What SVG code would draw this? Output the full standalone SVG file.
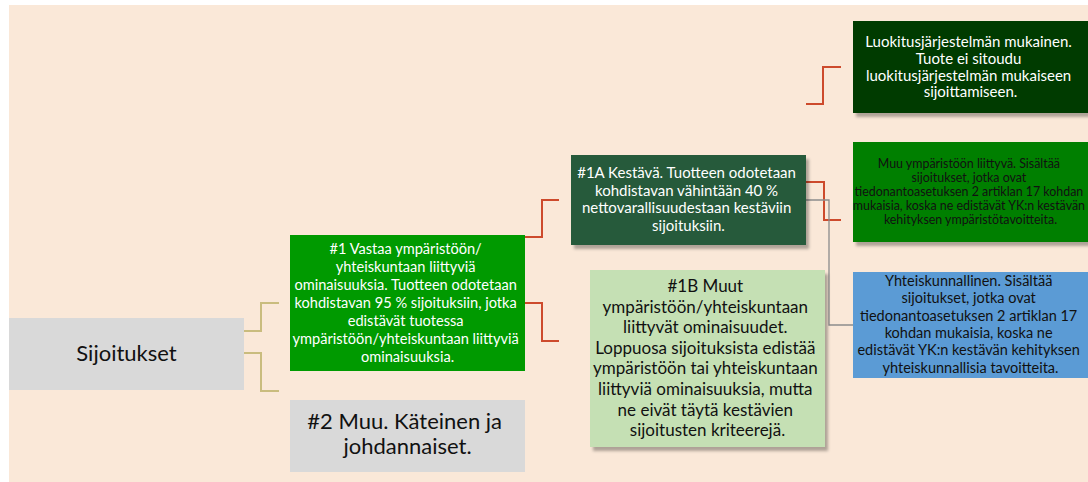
<svg xmlns="http://www.w3.org/2000/svg" width="1088" height="482" viewBox="0 0 1088 482">
<defs>
<filter id="sh" x="-10%" y="-10%" width="130%" height="140%">
<feDropShadow dx="3" dy="4" stdDeviation="1.5" flood-color="#000" flood-opacity="0.3"/>
</filter>
<style>
text{font-family:Lato,"Open Sans","Noto Sans",sans-serif;text-anchor:middle}
.w{fill:#ffffff}
.k{fill:#111111}
.tan{fill:none;stroke:#C9BC7E;stroke-width:2}
.red{fill:none;stroke:#CD4A2C;stroke-width:2}
.gry{fill:none;stroke:#8C8C8C;stroke-width:1.3}
</style>
</defs>
<rect x="0" y="0" width="1088" height="482" fill="#ffffff"/>
<rect x="9" y="5" width="1079" height="477" fill="#FAE8D8"/>

<g id="connectors">
<polyline class="tan" points="244,331 261,331 261,303 279,303"/>
<polyline class="tan" points="244,353 261,353 261,391 279,391"/>
<polyline class="red" points="525,237 542,237 542,200 559,200"/>
<polyline class="red" points="525,303 542,303 542,341 559,341"/>
<polyline class="red" points="806,182 824,182 824,220 841,220"/>
<polyline class="gry" points="806,200 829,200 829,325 853,325"/>
<polyline class="red" points="806,104 823,104 823,67 841,67"/>
</g>

<g id="sijoitukset">
<rect x="9" y="318" width="235" height="72" fill="#D9D9D9"/>
<text class="k" x="126.5" y="361" font-size="22">Sijoitukset</text>
</g>

<g id="n1">
<rect x="290" y="235" width="235" height="136" fill="#009A00"/>
<text class="w" font-size="14.6">
<tspan x="407.5" y="254">#1 Vastaa ympäristöön/</tspan>
<tspan x="407.5" y="272">yhteiskuntaan liittyviä</tspan>
<tspan x="407.5" y="290">ominaisuuksia. Tuotteen odotetaan</tspan>
<tspan x="407.5" y="308">kohdistavan 95 % sijoituksiin, jotka</tspan>
<tspan x="407.5" y="326">edistävät tuotessa</tspan>
<tspan x="407.5" y="344">ympäristöön/yhteiskuntaan liittyviä</tspan>
<tspan x="407.5" y="362">ominaisuuksia.</tspan>
</text>
</g>

<g id="n2">
<rect x="290" y="400" width="235" height="72" fill="#D9D9D9"/>
<text class="k" font-size="22">
<tspan x="407.5" y="429">#2 Muu. Käteinen ja</tspan>
<tspan x="407.5" y="454">johdannaiset.</tspan>
</text>
</g>

<g id="n1a">
<rect x="571" y="155" width="235" height="90" fill="#255A3A" filter="url(#sh)"/>
<text class="w" font-size="15">
<tspan x="688.5" y="178">#1A Kestävä. Tuotteen odotetaan</tspan>
<tspan x="688.5" y="195.7">kohdistavan vähintään 40 %</tspan>
<tspan x="688.5" y="213.3">nettovarallisuudestaan kestäviin</tspan>
<tspan x="688.5" y="231">sijoituksiin.</tspan>
</text>
</g>

<g id="n1b">
<rect x="590" y="270" width="235" height="177" fill="#C5E0B4" filter="url(#sh)"/>
<text class="k" font-size="17">
<tspan x="707.5" y="292">#1B Muut</tspan>
<tspan x="707.5" y="312.6">ympäristöön/yhteiskuntaan</tspan>
<tspan x="707.5" y="333.2">liittyvät ominaisuudet.</tspan>
<tspan x="707.5" y="353.8">Loppuosa sijoituksista edistää</tspan>
<tspan x="707.5" y="374.4">ympäristöön tai yhteiskuntaan</tspan>
<tspan x="707.5" y="395">liittyviä ominaisuuksia, mutta</tspan>
<tspan x="707.5" y="415.6">ne eivät täytä kestävien</tspan>
<tspan x="707.5" y="436">sijoitusten kriteerejä.</tspan>
</text>
</g>

<g id="taxonomy">
<rect x="853" y="21" width="240" height="92" fill="#013A06" filter="url(#sh)"/>
<text class="w" font-size="15">
<tspan x="970.5" y="47">Luokitusjärjestelmän mukainen.</tspan>
<tspan x="970.5" y="63.8">Tuote ei sitoudu</tspan>
<tspan x="970.5" y="80.6">luokitusjärjestelmän mukaiseen</tspan>
<tspan x="970.5" y="97.4">sijoittamiseen.</tspan>
</text>
</g>

<g id="environmental">
<rect x="853" y="142" width="240" height="100" fill="#007F00" filter="url(#sh)"/>
<text class="k" font-size="12.4">
<tspan x="970.5" y="168">Muu ympäristöön liittyvä. Sisältää</tspan>
<tspan x="970.5" y="182">sijoitukset, jotka ovat</tspan>
<tspan x="970.5" y="196">tiedonantoasetuksen 2 artiklan 17 kohdan</tspan>
<tspan x="970.5" y="210">mukaisia, koska ne edistävät YK:n kestävän</tspan>
<tspan x="970.5" y="224">kehityksen ympäristötavoitteita.</tspan>
</text>
</g>

<g id="social">
<rect x="853" y="272" width="240" height="106" fill="#5B9BD5"/>
<text class="k" font-size="14.5">
<tspan x="970.5" y="286">Yhteiskunnallinen. Sisältää</tspan>
<tspan x="970.5" y="303.3">sijoitukset, jotka ovat</tspan>
<tspan x="970.5" y="320.7">tiedonantoasetuksen 2 artiklan 17</tspan>
<tspan x="970.5" y="338">kohdan mukaisia, koska ne</tspan>
<tspan x="970.5" y="355.4">edistävät YK:n kestävän kehityksen</tspan>
<tspan x="970.5" y="372.7">yhteiskunnallisia tavoitteita.</tspan>
</text>
</g>
</svg>
